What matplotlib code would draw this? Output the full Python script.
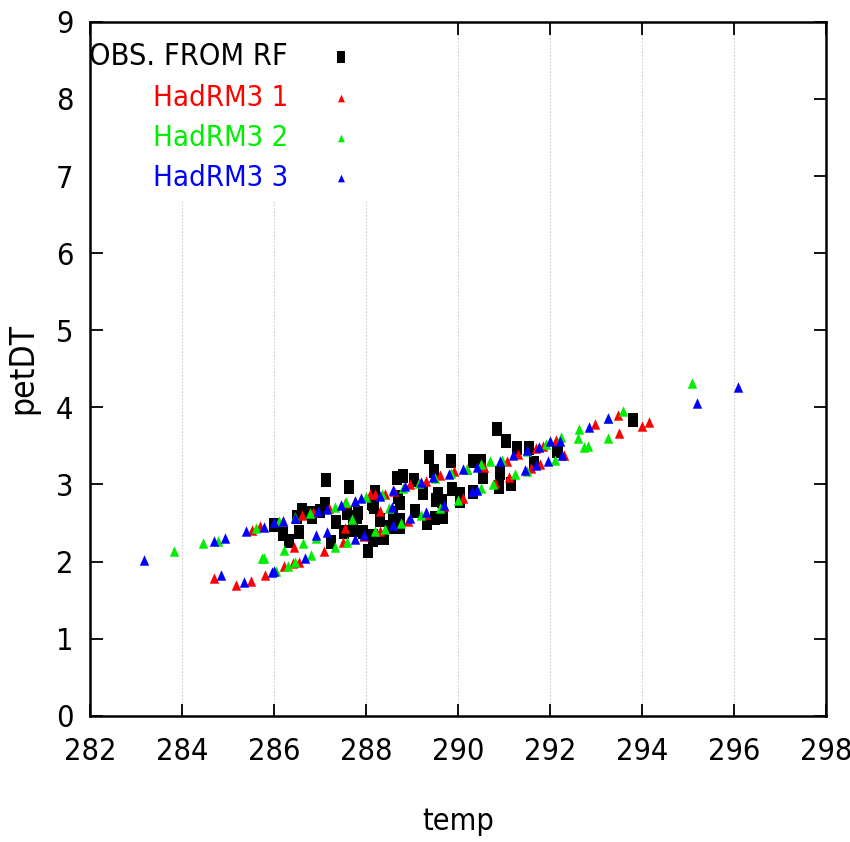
import matplotlib
matplotlib.use("Agg")
import matplotlib.pyplot as plt
from matplotlib.patches import Rectangle

plt.rcParams['font.family'] = ['DejaVu Sans']
plt.rcParams['font.stretch'] = 'condensed'

# observations (black squares)
obs_x = [287.12, 287.62, 286.00, 286.20, 286.33, 286.53, 286.60, 286.49, 286.78, 287.00,
         287.24, 287.35, 287.58, 287.72, 287.83, 287.51, 287.72, 287.94, 288.15, 288.20,
         288.18, 288.05, 288.15, 288.34, 288.67, 288.69, 288.59, 286.82, 287.11, 287.80,
         288.12, 288.14, 288.81, 289.03, 289.36, 288.74, 288.74, 289.07, 289.32, 288.30,
         288.52, 290.84, 291.04, 291.29, 291.55, 291.64, 289.84, 290.33, 290.49, 290.55,
         290.91, 290.88, 291.15, 289.48, 289.24, 289.57, 289.86, 290.03, 290.03, 290.33,
         289.64, 289.52, 289.50, 289.67, 292.14, 292.18, 293.79, 288.38, 288.74, 288.59]
obs_y = [3.06, 2.97, 2.47, 2.36, 2.26, 2.38, 2.67, 2.58, 2.63, 2.66,
         2.25, 2.51, 2.63, 2.56, 2.63, 2.38, 2.41, 2.38, 2.74, 2.90,
         2.71, 2.13, 2.28, 2.30, 3.08, 2.84, 2.45, 2.58, 2.74, 2.58,
         2.76, 2.33, 3.11, 3.06, 3.36, 2.76, 2.54, 2.65, 2.50, 2.54,
         2.45, 3.72, 3.56, 3.47, 3.47, 3.28, 3.30, 3.30, 3.30, 3.10,
         3.15, 2.97, 3.00, 3.17, 2.89, 2.87, 2.94, 2.87, 2.78, 2.90,
         2.78, 2.80, 2.56, 2.58, 3.43, 3.45, 3.84, 2.30, 2.45, 2.63]

# HadRM3 member 1 (red)
had1_x = [285.51, 285.70, 286.20, 286.60, 286.85, 287.20, 287.55, 287.75, 288.09, 288.20,
          288.40, 288.60, 288.95, 289.30, 289.60, 289.90, 290.20, 290.57, 291.06, 291.30,
          291.70, 291.85, 292.12, 292.98, 293.48, 284.70, 285.17, 285.49, 285.80, 286.22,
          286.40, 286.54, 287.09, 287.50, 287.95, 288.30, 288.90, 289.30, 289.70, 290.10,
          290.80, 291.11, 291.59, 291.78, 292.30, 293.49, 294.00, 294.14, 286.44, 287.54,
          288.30]
had1_y = [2.41, 2.46, 2.53, 2.60, 2.64, 2.70, 2.76, 2.79, 2.87, 2.88,
          2.88, 2.92, 3.00, 3.05, 3.12, 3.17, 3.20, 3.23, 3.31, 3.40,
          3.47, 3.50, 3.57, 3.79, 3.90, 1.78, 1.69, 1.75, 1.83, 1.94,
          1.98, 2.00, 2.14, 2.25, 2.33, 2.40, 2.53, 2.62, 2.72, 2.83,
          3.02, 3.09, 3.21, 3.26, 3.38, 3.67, 3.76, 3.81, 2.19, 2.44,
          2.65]

# HadRM3 member 2 (green)
had2_x = [283.83, 284.46, 284.77, 285.61, 286.10, 286.46, 286.78, 287.33, 287.57, 288.00,
          288.35, 288.80, 289.15, 289.50, 289.85, 290.20, 290.50, 290.70, 290.95, 291.50,
          291.90, 292.23, 292.62, 293.26, 293.59, 295.09, 285.73, 285.78, 286.05, 286.30,
          286.46, 286.80, 287.33, 287.58, 288.20, 288.40, 288.75, 289.20, 289.60, 290.00,
          290.50, 290.75, 291.24, 291.50, 292.11, 292.61, 292.73, 292.83, 293.26, 286.22,
          286.62, 286.91, 287.70, 288.50]
had2_y = [2.13, 2.24, 2.27, 2.43, 2.52, 2.58, 2.63, 2.71, 2.77, 2.84,
          2.88, 2.96, 3.02, 3.08, 3.15, 3.20, 3.26, 3.30, 3.32, 3.44,
          3.52, 3.61, 3.72, 3.86, 3.95, 4.31, 2.04, 2.04, 1.88, 1.94,
          1.99, 2.08, 2.19, 2.25, 2.39, 2.42, 2.50, 2.60, 2.70, 2.80,
          2.95, 3.00, 3.13, 3.17, 3.32, 3.60, 3.49, 3.50, 3.60, 2.15,
          2.24, 2.30, 2.55, 2.70]

# HadRM3 member 3 (blue)
had3_x = [283.18, 284.69, 284.93, 285.38, 285.78, 285.99, 286.19, 286.46, 286.96, 287.14,
          287.45, 287.76, 287.89, 288.30, 288.58, 288.85, 289.20, 289.45, 289.80, 290.10,
          290.40, 290.91, 291.20, 291.49, 291.75, 291.99, 292.22, 292.85, 293.25, 296.09,
          284.84, 285.35, 285.95, 286.00, 286.67, 287.76, 287.96, 288.59, 288.95, 289.30,
          289.70, 290.30, 290.40, 291.45, 291.70, 291.96, 292.25, 295.19, 286.91, 287.14,
          288.56]
had3_y = [2.02, 2.27, 2.31, 2.39, 2.45, 2.51, 2.53, 2.57, 2.66, 2.68,
          2.73, 2.78, 2.82, 2.85, 2.93, 2.98, 3.03, 3.09, 3.14, 3.20,
          3.22, 3.30, 3.38, 3.45, 3.48, 3.56, 3.56, 3.75, 3.86, 4.27,
          1.82, 1.73, 1.87, 1.88, 2.04, 2.29, 2.35, 2.48, 2.56, 2.64,
          2.73, 2.91, 2.93, 3.19, 3.25, 3.31, 3.38, 4.06, 2.35, 2.38,
          2.71]

labels = ["OBS. FROM RF", "HadRM3 1", "HadRM3 2", "HadRM3 3"]
colors = ["black", "#ff0000", "#00ee00", "#0000ff"]

# gnuplot output was squeezed sideways, so the markers are taller than wide
square = [(-0.36, -0.5), (0.36, -0.5), (0.36, 0.5), (-0.36, 0.5), (-0.36, -0.5)]
tri = [(-0.45, -0.5), (0.45, -0.5), (0.0, 0.5), (-0.45, -0.5)]

fig = plt.figure(figsize=(8.5, 8.42), dpi=100)
ax = fig.add_axes([0.106, 0.150, 0.866, 0.824])

series = [(obs_x, obs_y), (had1_x, had1_y), (had2_x, had2_y), (had3_x, had3_y)]
for i, (xs, ys) in enumerate(series):
    if i == 0:
        ax.plot(xs, ys, linestyle="none", marker=square, markersize=10.5,
                color=colors[i], markeredgewidth=0, zorder=3)
    else:
        ax.plot(xs, ys, linestyle="none", marker=tri, markersize=7.5,
                color=colors[i], markeredgewidth=0, zorder=3 + i)

ax.set_xlim(282, 298)
ax.set_ylim(0, 9)
ax.set_xticks(range(282, 299, 2))
ax.set_yticks(range(0, 10))
ax.xaxis.grid(True, linestyle=(0, (1.5, 1.5)), color="#cccccc", linewidth=0.8)
ax.set_axisbelow(True)
ax.tick_params(direction="in", length=9, width=1.3, labelsize=22, top=True, right=True)
ax.tick_params(axis="x", pad=15)
ax.tick_params(axis="y", pad=12)
for s in ax.spines.values():
    s.set_linewidth(1.8)
ax.set_xlabel("temp", fontsize=22, labelpad=30)
ax.set_ylabel("petDT", fontsize=24, labelpad=12)

# opaque key box, as gnuplot draws it over the grid
ax.add_patch(Rectangle((0, 0.74), 0.40, 0.26, transform=ax.transAxes,
                       facecolor="white", edgecolor="none", zorder=2))
key_y = [0.950, 0.890, 0.833, 0.775]
for i, lab in enumerate(labels):
    ax.text(0.269, key_y[i], lab, transform=ax.transAxes, ha="right", va="center",
            fontsize=22 if i == 0 else 21, color=colors[i], zorder=6)
    if i == 0:
        ax.plot([0.341], [key_y[i]], transform=ax.transAxes, linestyle="none",
                marker=square, markersize=8, color=colors[i], markeredgewidth=0,
                clip_on=False, zorder=6)
    else:
        ax.plot([0.341], [key_y[i]], transform=ax.transAxes, linestyle="none",
                marker=tri, markersize=5.5, color=colors[i], markeredgewidth=0,
                clip_on=False, zorder=6)

fig.savefig("out.png", dpi=100)
